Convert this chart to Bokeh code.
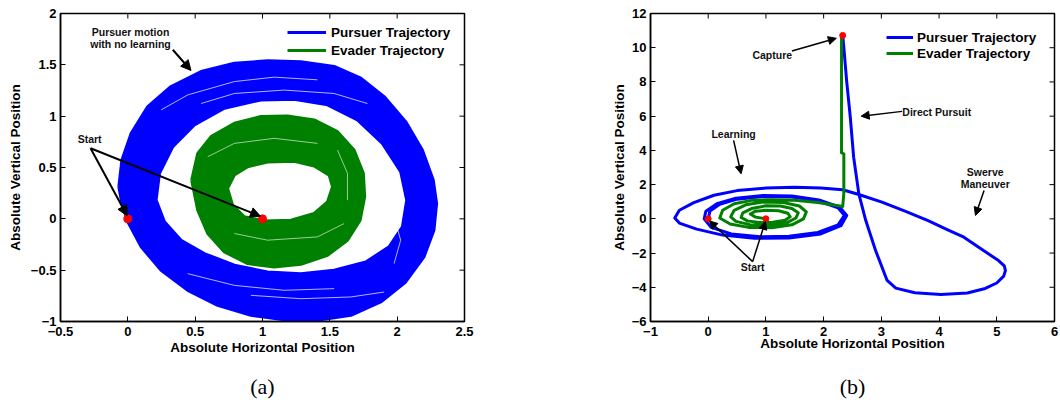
import math
from bokeh.plotting import figure
from bokeh.layouts import row
from bokeh.models import (Range1d, FixedTicker, LinearAxis, Legend, LegendItem, Arrow, NormalHead)
from bokeh.core.properties import value
from bokeh.embed import file_html
from bokeh.resources import INLINE

# ---------------- Panel (a) data ----------------
a_xticks = [-0.5, 0, 0.5, 1, 1.5, 2, 2.5]
a_xlabels = ["\u22120.5", "0", "0.5", "1", "1.5", "2", "2.5"]
a_yticks = [-1, -0.5, 0, 0.5, 1, 1.5, 2]
a_ylabels = ["\u22121", "\u22120.5", "0", "0.5", "1", "1.5", "2"]

# pursuer band (outer edge / inner edge of the dense orbit band)
a_pur_outer_x = [-0.067, -0.044, 0.025, 0.148, 0.321, 0.544, 0.791, 1.038, 1.285, 1.532, 1.730, 1.903,
                 2.063, 2.187, 2.268, 2.293, 2.273, 2.199, 2.063, 1.878, 1.656, 1.408, 1.161, 0.914,
                 0.667, 0.445, 0.247, 0.099, 0.0, -0.044]
a_pur_outer_y = [0.312, 0.573, 0.833, 1.093, 1.289, 1.435, 1.516, 1.539, 1.529, 1.484, 1.370, 1.191,
                 0.947, 0.670, 0.377, 0.150, -0.111, -0.371, -0.615, -0.810, -0.940, -0.989, -0.983, -0.940,
                 -0.843, -0.696, -0.501, -0.273, -0.029, 0.150]
a_pur_inner_x = [0.210, 0.235, 0.334, 0.494, 0.717, 0.988, 1.235, 1.483, 1.705, 1.890, 2.026, 2.071,
                 2.039, 1.940, 1.767, 1.532, 1.285, 1.038, 0.791, 0.568, 0.395, 0.272]
a_pur_inner_y = [0.182, 0.443, 0.703, 0.914, 1.077, 1.158, 1.165, 1.110, 0.963, 0.735, 0.459, 0.182,
                 -0.078, -0.273, -0.420, -0.501, -0.534, -0.517, -0.452, -0.338, -0.208, -0.029]
# thin gaps visible inside the pursuer band
a_pur_gaps_x = [[0.247, 0.445, 0.791, 1.087, 1.408],
                [0.544, 0.791, 1.161, 1.532, 1.779],
                [0.445, 0.791, 1.161, 1.532],
                [0.914, 1.285, 1.656, 1.903],
                [-0.012, 0.025, 0.099],
                [1.977, 2.026, 1.977]]
a_pur_gaps_y = [[1.061, 1.207, 1.337, 1.380, 1.354],
                [1.123, 1.221, 1.254, 1.221, 1.123],
                [-0.534, -0.648, -0.696, -0.680],
                [-0.745, -0.778, -0.761, -0.713],
                [-0.078, -0.273, -0.436],
                [0.020, -0.208, -0.436]]
# evader band
a_eva_outer_x = [0.474, 0.519, 0.618, 0.791, 0.988, 1.186, 1.384, 1.557, 1.680, 1.749, 1.759, 1.725,
                 1.631, 1.483, 1.285, 1.087, 0.890, 0.717, 0.593, 0.519]
a_eva_outer_y = [0.377, 0.638, 0.801, 0.931, 0.996, 1.002, 0.963, 0.849, 0.670, 0.443, 0.215, -0.013,
                 -0.208, -0.355, -0.443, -0.469, -0.436, -0.322, -0.143, 0.085]
a_eva_inner_x = [0.741, 0.791, 0.890, 1.038, 1.235, 1.384, 1.495, 1.520, 1.483, 1.384, 1.211, 1.013,
                 0.865, 0.778]
a_eva_inner_y = [0.296, 0.426, 0.508, 0.553, 0.560, 0.514, 0.426, 0.312, 0.166, 0.052, -0.013, -0.020,
                 0.020, 0.133]
a_eva_gaps_x = [[0.593, 0.791, 1.087, 1.408],
                [0.791, 1.038, 1.408, 1.606],
                [1.557, 1.631, 1.631]]
a_eva_gaps_y = [[0.605, 0.735, 0.784, 0.735],
                [-0.143, -0.208, -0.176, -0.046],
                [0.670, 0.443, 0.182]]
a_start_x = [0.0, 1.0]
a_start_y = [0.0, 0.0]
a_text_x = [0.02, 0.02, -0.284]
a_text_y = [1.82, 1.705, 0.775]
a_text = ["Pursuer motion", "with no learning", "Start"]
a_arrows = [(0.334, 1.647, 0.469, 1.445),
            (-0.277, 0.687, -0.005, 0.03),
            (-0.277, 0.687, 0.985, 0.025)]

# ---------------- Panel (b) data ----------------
b_xticks = [-1, 0, 1, 2, 3, 4, 5, 6]
b_xlabels = ["\u22121", "0", "1", "2", "3", "4", "5", "6"]
b_yticks = [-6, -4, -2, 0, 2, 4, 6, 8, 10, 12]
b_ylabels = ["\u22126", "\u22124", "\u22122", "0", "2", "4", "6", "8", "10", "12"]

b_pur_x = [0.0, 0.03, 0.2, 0.5, 0.95, 1.45, 1.9, 2.25, 2.36, 2.25, 1.9, 1.4, 0.9, 0.4, 0.05, -0.07,
           -0.04, 0.15, 0.48, 0.95, 1.45, 1.92, 2.28, 2.4, 2.3, 1.95, 1.4, 0.8, 0.25, -0.2, -0.5, -0.58,
           -0.5, -0.25, 0.1, 0.5, 1.0, 1.5, 1.95, 2.33,
           2.61, 3.01, 3.41, 3.81, 4.15, 4.43, 4.77, 5.03, 5.13, 5.15, 5.12, 5.0, 4.8, 4.49, 4.03, 3.58,
           3.25, 3.10,
           2.90, 2.73, 2.61, 2.52, 2.46, 2.40, 2.35, 2.33]
b_pur_y = [0.0, 0.45, 0.85, 1.15, 1.3, 1.27, 1.05, 0.65, 0.2, -0.35, -0.8, -1.02, -1.05, -0.88, -0.5, 0.0,
           0.45, 0.88, 1.2, 1.36, 1.33, 1.1, 0.68, 0.2, -0.4, -0.88, -1.12, -1.14, -0.95, -0.6, -0.25, 0.05,
           0.5, 0.95, 1.38, 1.65, 1.8, 1.85, 1.8, 1.70,
           1.42, 0.98, 0.45, -0.10, -0.64, -1.07, -1.85, -2.44, -2.75, -3.02, -3.35, -3.75, -4.07, -4.33,
           -4.42, -4.32, -4.05, -3.6,
           -1.85, -0.10, 1.46, 3.6, 6.0, 8.0, 10.0, 10.7]
b_eva_x = [1.0, 0.82, 0.73, 0.82, 1.0, 1.22, 1.38, 1.42, 1.33, 1.12, 0.88, 0.68, 0.57, 0.6, 0.75, 1.0,
           1.25, 1.45, 1.56, 1.52, 1.35, 1.05, 0.72, 0.48, 0.39, 0.45, 0.65, 0.95, 1.3, 1.58, 1.70, 1.65,
           1.45, 1.1, 0.7, 0.38, 0.2, 0.25, 0.45, 0.75, 1.1, 1.5, 1.9, 2.2, 2.33, 2.35, 2.35, 2.31, 2.31]
b_eva_y = [0.0, 0.1, 0.28, 0.45, 0.5, 0.47, 0.33, 0.12, -0.08, -0.2, -0.22, -0.12, 0.08, 0.35, 0.6, 0.76,
           0.75, 0.6, 0.35, 0.05, -0.25, -0.38, -0.34, -0.15, 0.12, 0.5, 0.82, 0.98, 0.95, 0.75, 0.4, 0.0,
           -0.35, -0.52, -0.5, -0.3, 0.05, 0.5, 0.88, 1.08, 1.12, 1.08, 0.95, 0.8, 0.72, 1.5, 3.8, 3.85, 10.7]
b_dot_x = [0.0, 1.0, 2.33]
b_dot_y = [0.0, 0.0, 10.72]
b_text_x = [1.11, 3.96, 0.44, 4.80, 4.80, 0.77]
b_text_y = [9.6, 6.24, 4.94, 2.73, 2.05, -2.83]
b_text = ["Capture", "Direct Pursuit", "Learning", "Swerve", "Maneuver", "Start"]
b_arrows = [(1.45, 9.81, 2.22, 10.55),
            (3.36, 6.28, 2.65, 6.0),
            (0.44, 4.59, 0.57, 2.63),
            (4.78, 1.66, 4.63, 0.2),
            (0.77, -2.5, 0.02, -0.12),
            (0.77, -2.5, 0.99, -0.15)]

BLUE = "#0000ff"
GREEN = "#008000"
RED = "#ff0000"
FONT = "Liberation Sans"


def style_axis(ax):
    ax.axis_line_color = "black"
    ax.axis_line_width = 1.5
    ax.major_tick_in = 5
    ax.major_tick_out = 0
    ax.major_tick_line_color = "black"
    ax.major_tick_line_width = 1
    ax.minor_tick_line_color = None
    ax.major_label_text_font = FONT
    ax.major_label_text_font_style = "bold"
    ax.major_label_text_font_size = "13px"
    ax.major_label_text_color = "black"
    ax.axis_label_text_font = FONT
    ax.axis_label_text_font_style = "bold"
    ax.axis_label_text_font_size = "13.5px"
    ax.axis_label_text_color = "black"


def make_fig(xr, yr, xticks, xlabels, yticks, ylabels, left, right, bottom,
             caption, cap_bounds, cap_standoff, xlab_standoff, ylab_standoff):
    p = figure(width=530, height=405, x_range=Range1d(*xr), y_range=Range1d(*yr),
               output_backend="svg", toolbar_location=None, title=None,
               min_border_left=left, min_border_right=right, min_border_top=13,
               min_border_bottom=bottom,
               x_axis_label="Absolute Horizontal Position",
               y_axis_label="Absolute Vertical Position")
    p.xgrid.grid_line_color = None
    p.ygrid.grid_line_color = None
    p.outline_line_color = "black"
    p.outline_line_width = 1.5
    p.outline_line_alpha = 1
    p.background_fill_color = "white"
    p.border_fill_color = "white"
    xa, ya = p.xaxis[0], p.yaxis[0]
    xa.ticker = FixedTicker(ticks=xticks)
    xa.major_label_overrides = dict(zip(xticks, xlabels))
    ya.ticker = FixedTicker(ticks=yticks)
    ya.major_label_overrides = dict(zip(yticks, ylabels))
    style_axis(xa)
    style_axis(ya)
    xa.major_label_standoff = 5
    xa.axis_label_standoff = xlab_standoff
    ya.major_label_standoff = 4
    ya.axis_label_standoff = ylab_standoff
    # mirrored inward ticks on the top and right edges (clipped half-dashes)
    p.scatter(xticks, [yr[1]] * len(xticks), marker="dash", size=10, angle=math.pi / 2,
              line_color="black", line_width=1)
    p.scatter([xr[1]] * len(yticks), yticks, marker="dash", size=10,
              line_color="black", line_width=1)
    # sub-figure caption: a tick-less axis below the x axis, carrying only its label
    cap = LinearAxis(ticker=FixedTicker(ticks=[]), bounds=cap_bounds, axis_label=caption,
                     axis_line_color=None, major_tick_line_color=None,
                     minor_tick_line_color=None, major_label_standoff=0,
                     axis_label_standoff=cap_standoff,
                     axis_label_text_font="Liberation Serif", axis_label_text_font_style="normal",
                     axis_label_text_font_size="22px", axis_label_text_color="black")
    p.add_layout(cap, "below")
    return p


def add_arrows(p, arrows, lw, size):
    for x0, y0, x1, y1 in arrows:
        p.add_layout(Arrow(end=NormalHead(size=size, fill_color="black", line_color="black",
                                          line_width=1),
                           x_start=x0, y_start=y0, x_end=x1, y_end=y1,
                           line_width=lw, line_color="black"))


# ---------------- Panel (a) ----------------
pa = make_fig((-0.5, 2.5), (-1, 2), a_xticks, a_xlabels, a_yticks, a_ylabels, 60, 66, 84,
              "(a)", (-0.5, 2.35), 16, 1, 5)
pa.multi_polygons(xs=[[[a_pur_outer_x, a_pur_inner_x]]], ys=[[[a_pur_outer_y, a_pur_inner_y]]],
                  fill_color=BLUE, line_color=None)
ra1 = pa.line(a_pur_outer_x + a_pur_outer_x[:1], a_pur_outer_y + a_pur_outer_y[:1],
              line_color=BLUE, line_width=3)
pa.line(a_pur_inner_x + a_pur_inner_x[:1], a_pur_inner_y + a_pur_inner_y[:1],
        line_color=BLUE, line_width=3)
pa.multi_line(a_pur_gaps_x, a_pur_gaps_y, line_color="white", line_width=1, line_alpha=0.7)
pa.multi_polygons(xs=[[[a_eva_outer_x, a_eva_inner_x]]], ys=[[[a_eva_outer_y, a_eva_inner_y]]],
                  fill_color=GREEN, line_color=None)
ra2 = pa.line(a_eva_outer_x + a_eva_outer_x[:1], a_eva_outer_y + a_eva_outer_y[:1],
              line_color=GREEN, line_width=3)
pa.line(a_eva_inner_x + a_eva_inner_x[:1], a_eva_inner_y + a_eva_inner_y[:1],
        line_color=GREEN, line_width=3)
pa.multi_line(a_eva_gaps_x, a_eva_gaps_y, line_color="white", line_width=1, line_alpha=0.6)
add_arrows(pa, a_arrows, 2, 10)
pa.scatter(a_start_x, a_start_y, size=8, fill_color=RED, line_color=RED)
pa.text(a_text_x, a_text_y, text=a_text, text_font=value(FONT), text_font_style="bold",
        text_font_size="10.5px", text_align="center", text_baseline="middle", text_color="#111111")
leg_a = Legend(items=[LegendItem(label="Pursuer Trajectory", renderers=[ra1]),
                      LegendItem(label="Evader Trajectory", renderers=[ra2])],
               location=(227, 262), glyph_width=39, glyph_height=18, label_height=18,
               label_standoff=5, spacing=0, padding=0, margin=0,
               border_line_color=None, background_fill_alpha=0,
               label_text_font=FONT, label_text_font_style="bold", label_text_font_size="13.5px",
               label_text_color="black")
pa.add_layout(leg_a)

# ---------------- Panel (b) ----------------
pb = make_fig((-1, 6), (-6, 12), b_xticks, b_xlabels, b_yticks, b_ylabels, 120, 6, 83,
              "(b)", (-1, 5.678), 20, -3, 2)
rb1 = pb.line(b_pur_x, b_pur_y, line_color=BLUE, line_width=3, line_join="round")
rb2 = pb.line(b_eva_x, b_eva_y, line_color=GREEN, line_width=3, line_join="round")
add_arrows(pb, b_arrows, 1.5, 8)
pb.scatter(b_dot_x, b_dot_y, size=6, fill_color=RED, line_color=RED)
pb.text(b_text_x, b_text_y, text=b_text, text_font=value(FONT), text_font_style="bold",
        text_font_size="10.5px", text_align="center", text_baseline="middle", text_color="#111111")
leg_b = Legend(items=[LegendItem(label="Pursuer Trajectory", renderers=[rb1]),
                      LegendItem(label="Evader Trajectory", renderers=[rb2])],
               location=(236, 260), glyph_width=27, glyph_height=16, label_height=16,
               label_standoff=4, spacing=0, padding=0, margin=0,
               border_line_color=None, background_fill_alpha=0,
               label_text_font=FONT, label_text_font_style="bold", label_text_font_size="13.5px",
               label_text_color="black")
pb.add_layout(leg_b)

layout = row(pa, pb)
open("out.html", "w").write(file_html(layout, INLINE))
